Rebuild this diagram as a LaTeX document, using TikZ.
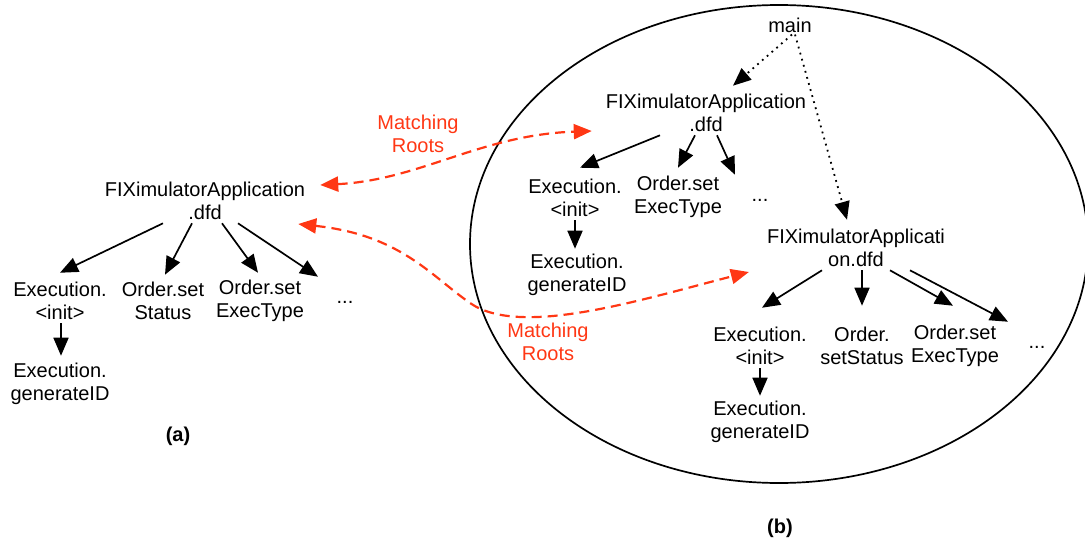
\documentclass[tikz,border=0pt]{standalone}
\usepackage{fontspec}
\setmainfont{Liberation Sans}
\usetikzlibrary{arrows.meta,calc}
\definecolor{matchred}{RGB}{255,55,20}
\begin{document}
\begin{tikzpicture}[x=1pt,y=-1pt,
  lbl/.style={align=center,inner sep=0pt,font=\fontsize{20}{23.5}\selectfont},
  tarrow/.style={line width=1.7pt,-{Triangle[length=18pt,width=15pt]}},
  darrow/.style={line width=1.8pt,dash pattern=on 1.8pt off 4.5pt,-{Triangle[length=18pt,width=15pt]}},
  marrow/.style={matchred,line width=2.2pt,dash pattern=on 10pt off 6pt,
     {Triangle[length=18pt,width=15pt]}-{Triangle[length=18pt,width=15pt]}},
  mlbl/.style={lbl,text=matchred},
  caplbl/.style={inner sep=0pt,font=\fontsize{20}{23.5}\selectfont\bfseries}]
\useasboundingbox (0,0) rectangle (1085,544);
% ellipse
\draw[line width=1.7pt] (779,244) ellipse [x radius=309pt, y radius=239pt];
% left tree (a)
\node[lbl] (la) at (205,201) {FIXimulatorApplication\\.dfd};
\node[lbl] (lei) at (60,301) {Execution.\\{<}init{>}};
\node[lbl] (los) at (163,301) {Order.set\\Status};
\node[lbl] (loe) at (260,301) {Order.set\\ExecType};
\node[lbl] (ld) at (345,302) {...};
\node[lbl] (lg) at (60,384) {Execution.\\generateID};
\node[caplbl] (capa) at (178,436) {(a)};
\draw[tarrow] ($(la.south)+(-42,3)$) -- ($(lei.north)+(0,-9)$);
\draw[tarrow] ($(la.south)+(-13,3)$) -- ($(los.north)+(2,-7)$);
\draw[tarrow] ($(la.south)+(17,3)$) -- ($(loe.north)+(-2,-7)$);
\draw[tarrow] ($(la.south)+(33,3)$) -- ($(ld.north)+(-27,-24)$);
\draw[tarrow] ($(lei.south)+(1,3)$) -- ($(lg.north)+(1,-7)$);
% right tree (b)
\node[lbl] (main) at (790,25) {main};
\node[lbl] (ru) at (706,113) {FIXimulatorApplication\\.dfd};
\node[lbl] (rei) at (575,198) {Execution.\\{<}init{>}};
\node[lbl] (roe) at (678,197) {Order.set\\ExecType};
\node[lbl] (rud) at (760,200) {...};
\node[lbl] (rg) at (577,275) {Execution.\\generateID};
\node[lbl] (rl) at (856,248) {FIXimulatorApplicati\\on.dfd};
\node[lbl] (lei2) at (760,346) {Execution.\\{<}init{>}};
\node[lbl] (los2) at (862,346) {Order.\\setStatus};
\node[lbl] (loe2) at (955,346) {Order.set\\ExecType};
\node[lbl] (ld2) at (1037,347) {...};
\node[lbl] (lg2) at (760,422) {Execution.\\generateID};
\node[caplbl] (capb) at (780,528) {(b)};
\draw[darrow] ($(main.south)+(2,2)$) -- ($(ru.north)+(27,-8)$);
\draw[darrow] ($(main.south)+(5,2)$) -- ($(rl.north)+(-9,-9)$);
\draw[tarrow] ($(ru.south)+(-46,3)$) -- ($(rei.north)+(5,-11)$);
\draw[tarrow] ($(ru.south)+(-11,3)$) -- ($(roe.north)+(0,-8)$);
\draw[tarrow] ($(ru.south)+(11,3)$) -- ($(rud.north)+(-25,-24)$);
\draw[tarrow] ($(rei.south)+(0,3)$) -- ($(rg.north)+(-2,-5)$);
\draw[tarrow] ($(rl.south)+(-34,3)$) -- ($(lei2.north)+(2,-19)$);
\draw[tarrow] ($(rl.south)+(6,3)$) -- ($(los2.north)+(0,-21)$);
\draw[tarrow] ($(rl.south)+(34,3)$) -- ($(loe2.north)+(-2,-19)$);
\draw[tarrow] ($(rl.south)+(54,3)$) -- ($(ld2.north)+(-29,-24)$);
\draw[tarrow] ($(lei2.south)+(0,3)$) -- ($(lg2.north)+(0,-5)$);
% matching roots
\coordinate (m1a) at ($(la.east)+(15,-16)$);
\coordinate (m1b) at ($(ru.west)+(-14,18)$);
\draw[marrow] (m1a) .. controls (420,180) and (480,135) .. (m1b);
\node[mlbl] (mr1) at (418,134) {Matching\\Roots};
\coordinate (m2a) at ($(la.east)+(-7,23)$);
\coordinate (m2b) at ($(rl.west)+(-18,24)$);
\draw[marrow] (m2a) .. controls (400,235) and (430,275) .. (470,303)
  .. controls (520,338) and (640,300) .. (m2b);
\node[mlbl] (mr2) at (548,342) {Matching\\Roots};
\end{tikzpicture}
\end{document}
